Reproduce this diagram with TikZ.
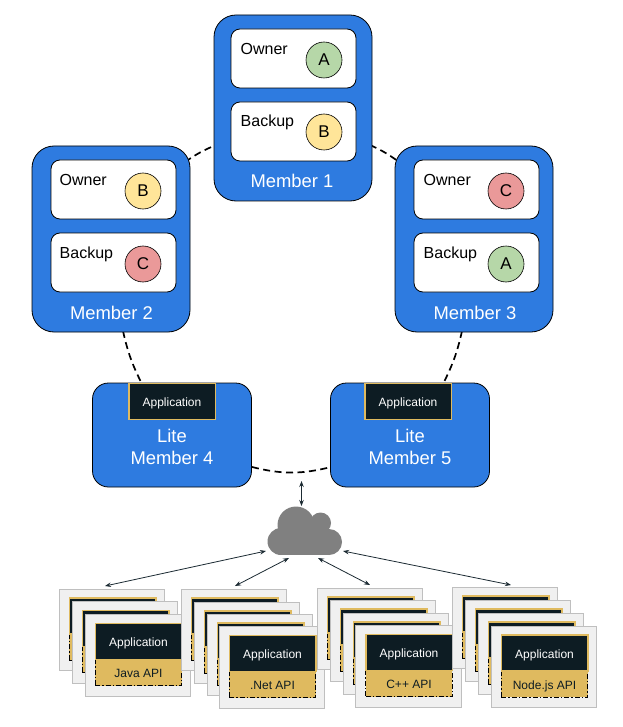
\documentclass[tikz,border=0pt]{standalone}
\usepackage{fontspec}
\setmainfont{Liberation Sans}
\usetikzlibrary{arrows.meta}
\definecolor{hzblue}{HTML}{2E7BE0}
\definecolor{hzdark}{HTML}{0D1C23}
\definecolor{hzgold}{HTML}{DFBA5F}
\definecolor{hzgreen}{HTML}{B6D7A8}
\definecolor{hzyellow}{HTML}{FFE599}
\definecolor{hzred}{HTML}{EA9999}
\definecolor{hzcard}{HTML}{F0F0F0}
\definecolor{hzcardline}{HTML}{BFBFBF}
\definecolor{hzcloud}{HTML}{808080}
\definecolor{hzarrow}{HTML}{1C2B33}
\tikzset{
  x=1pt,y=-1pt,
  member/.style={draw=black,line width=0.8pt,fill=hzblue,rounded corners=22pt,minimum width=158pt,minimum height=186pt,inner sep=0pt},
  slot/.style={draw=black,line width=0.8pt,fill=white,rounded corners=9pt,minimum width=125pt,minimum height=59pt,inner sep=0pt},
  lite/.style={draw=black,line width=0.8pt,fill=hzblue,rounded corners=16pt,minimum width=159pt,minimum height=104pt,inner sep=0pt},
  part/.style={circle,draw=black,line width=0.6pt,minimum size=36pt,inner sep=0pt,font=\fontsize{17}{20}\selectfont},
  slotlabel/.style={anchor=base west,inner sep=0pt,font=\fontsize{16}{19}\selectfont},
  memberlabel/.style={anchor=base,inner sep=0pt,text=white,font=\fontsize{18.4}{22}\selectfont},
  appbox/.style={draw=hzgold,line width=1.5pt,fill=hzdark,minimum width=86.5pt,minimum height=36pt,inner sep=0pt,text height=10pt,text depth=0pt,text=white,font=\fontsize{12}{14}\selectfont},
  apibox/.style={draw=black,line width=0.9pt,dash pattern=on 5pt off 2pt on 1.5pt off 2pt,fill=hzgold,minimum width=86.5pt,minimum height=26.5pt,inner sep=0pt,text height=10pt,text depth=0pt,text=hzdark,font=\fontsize{12}{14}\selectfont},
  cardbox/.style={draw=hzcardline,line width=0.8pt,fill=hzcard,minimum width=105.5pt,minimum height=81.5pt,inner sep=0pt},
  ring/.style={draw=black,line width=1.7pt,dash pattern=on 7pt off 4.5pt},
  link/.style={draw=hzarrow,line width=0.8pt,{Stealth[length=6pt,width=4.5pt]}-{Stealth[length=6pt,width=4.5pt]}}
}
% #1 name, #2 card centre x, #3 card centre y, #4 application text, #5 api text
\newcommand{\apicard}[5]{%
  \node[cardbox] (#1) at (#2,#3) {};
  \node[apibox] (#1api) at (#2+0.5,#3+17) {#5};
  \node[appbox] (#1app) at (#2+0.5,#3-14) {#4};
}
\begin{document}
\begin{tikzpicture}
\useasboundingbox (0,0) rectangle (622,727);
\fill[white] (0,0) rectangle (622,727);

% named ends of the dashed ring
\coordinate (e21) at (185,162);
\coordinate (e12) at (216,145);
\coordinate (e13) at (370,145);
\coordinate (e31) at (399,162);
\coordinate (e24) at (123,331);
\coordinate (e42) at (142,384);
\coordinate (e35) at (462,331);
\coordinate (e53) at (443,384);
\coordinate (e45) at (252,467);
\coordinate (e54) at (331,467);
\draw[ring] (e21) to[bend left=6] (e12);
\draw[ring] (e13) to[bend left=6] (e31);
\draw[ring] (e24) to[bend right=7] (e42);
\draw[ring] (e35) to[bend left=7] (e53);
\draw[ring] (e45) to[bend right=14] (e54);

% members
\node[member] (m1) at (293,108) {};
\node[member] (m2) at (111,239) {};
\node[member] (m3) at (474,239) {};
\node[slot] (m1o) at (293.5,58.5) {};
\node[slot] (m1b) at (293.5,131.5) {};
\node[slot] (m2o) at (113.5,189.5) {};
\node[slot] (m2b) at (113.5,262.5) {};
\node[slot] (m3o) at (476.5,189.5) {};
\node[slot] (m3b) at (476.5,262.5) {};
\node[slotlabel] (t1o) at (240.5,54.5) {Owner};
\node[slotlabel] (t1b) at (240.5,127) {Backup};
\node[slotlabel] (t2o) at (59.5,185.5) {Owner};
\node[slotlabel] (t2b) at (59.5,258) {Backup};
\node[slotlabel] (t3o) at (423.5,185.5) {Owner};
\node[slotlabel] (t3b) at (423.5,258) {Backup};
\node[part,fill=hzgreen] (p1a) at (324,60) {A};
\node[part,fill=hzyellow] (p1b) at (324,132) {B};
\node[part,fill=hzyellow] (p2a) at (143,191) {B};
\node[part,fill=hzred] (p2b) at (143,264) {C};
\node[part,fill=hzred] (p3a) at (506,191) {C};
\node[part,fill=hzgreen] (p3b) at (506,264) {A};
\node[memberlabel] (l1) at (292,188) {Member 1};
\node[memberlabel] (l2) at (111.5,319) {Member 2};
\node[memberlabel] (l3) at (475,319) {Member 3};

% lite members
\node[lite] (l4) at (172,435) {};
\node[lite] (l5) at (410,435) {};
\node[appbox] (a4) at (172,401.5) {Application};
\node[appbox] (a5) at (408,401.5) {Application};
\node[memberlabel] (l4a) at (172,442) {Lite};
\node[memberlabel] (l4b) at (172,464) {Member 4};
\node[memberlabel] (l5a) at (410,442) {Lite};
\node[memberlabel] (l5b) at (410,464) {Member 5};

% cloud
\fill[hzcloud] (296,525) circle (18.5);
\fill[hzcloud] (281,541.5) circle (13.5);
\fill[hzcloud] (329,542) circle (13);
\fill[hzcloud] (320.5,523) circle (10.5);
\fill[hzcloud] (281,528) rectangle (329,555);
\coordinate (ctop) at (301.5,506);
\coordinate (cl) at (266,551);
\coordinate (cml) at (289,558);
\coordinate (cmr) at (318,558);
\coordinate (cr) at (343,551);
\coordinate (lites) at (301.5,481);
\coordinate (sj) at (105,586);
\coordinate (sn) at (235,586);
\coordinate (sc) at (370,585);
\coordinate (sd) at (511,585);

% Java stack
\apicard{j1}{112}{630}{}{}
\apicard{j2}{125}{642.5}{}{}
\apicard{j3}{138}{655.5}{Application}{Java API}
% .Net stack
\apicard{n1}{234}{630}{}{}
\apicard{n2}{247}{643}{}{}
\apicard{n3}{260}{655}{}{}
\apicard{n4}{272}{667.5}{Application}{.Net API}
% C++ stack
\apicard{c1}{370}{629}{}{}
\apicard{c2}{383}{641}{}{}
\apicard{c3}{396}{654}{}{}
\apicard{c4}{408.5}{666.5}{Application}{C++ API}
% Node.js stack
\apicard{d1}{505}{628}{}{}
\apicard{d2}{518}{641}{}{}
\apicard{d3}{531}{654}{}{}
\apicard{d4}{544}{667}{Application}{Node.js API}

% arrows
\draw[link] (lites) -- (ctop);
\draw[link] (cl) -- (sj);
\draw[link] (cml) -- (sn);
\draw[link] (cmr) -- (sc);
\draw[link] (cr) -- (sd);
\end{tikzpicture}
\end{document}
